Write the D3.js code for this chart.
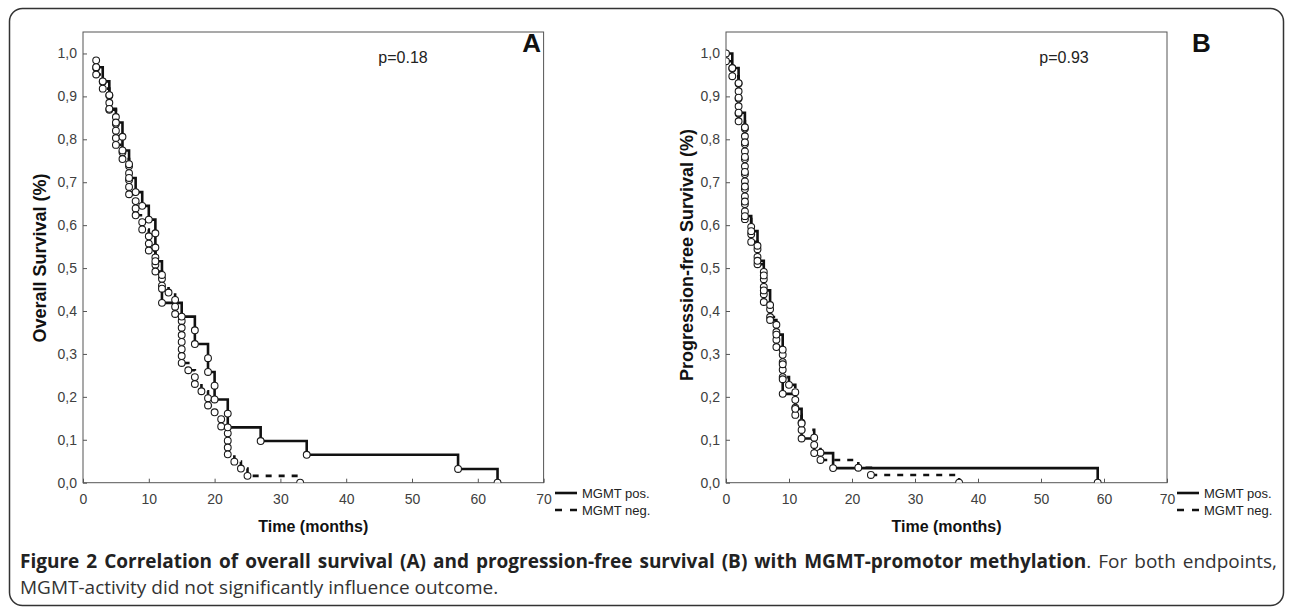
<!DOCTYPE html>
<html>
<head>
<meta charset="utf-8">
<script src="https://cdn.jsdelivr.net/npm/d3@7"></script>
<style>
  body { margin: 0; background: #fff; }
  svg { display: block; }
</style>
</head>
<body>
<svg id="fig" width="1290" height="608"></svg>
<script>
// axis ticks
const xTicks = [0, 10, 20, 30, 40, 50, 60, 70];
const yTicks = [0, 0.1, 0.2, 0.3, 0.4, 0.5, 0.6, 0.7, 0.8, 0.9, 1.0];
const yTickLabels = ["0,0", "0,1", "0,2", "0,3", "0,4", "0,5", "0,6", "0,7", "0,8", "0,9", "1,0"];
const seriesNames = ["MGMT pos.", "MGMT neg."];

// A: overall survival, MGMT pos (one point per death)
const osPosTime = [2, 3, 4, 4, 5, 6, 6, 7, 7, 8, 9, 10, 11, 11, 11, 12, 12, 12, 15, 17, 17, 19, 19, 20, 20, 22, 22, 27, 34, 57, 63];
const osPosSurv = [.968, .935, .903, .871, .839, .806, .774, .742, .710, .677, .645, .613, .581, .548, .516, .484, .452, .419,
  .387, .355, .323, .290, .258, .226, .194, .161, .129, .097, .065, .032, 0];

// A: overall survival, MGMT neg
const osNegTime = [2, 2, 2, 3, 3, 4, 4, 4, 5, 5, 5, 5, 5, 6, 6, 7, 7, 7, 7, 7, 8, 8, 8, 9, 9, 10, 10, 10, 11, 11, 11,
  12, 12, 13, 14, 14, 14, 15, 15, 15, 15, 15, 15, 15, 16, 17, 17, 18, 19, 19, 20, 21, 21, 22, 22, 22, 22, 23, 24, 25, 33];
const osNegSurv = [.984, .967, .951, .934, .918, .902, .885, .869, .852, .836, .820, .803, .787, .770, .754, .738, .721, .705,
  .689, .672, .656, .639, .623, .607, .590, .574, .557, .541, .525, .508, .492, .475, .459, .443, .426, .410, .393, .377,
  .361, .344, .328, .311, .295, .279, .262, .246, .230, .213, .197, .180, .164, .148, .131, .115, .098, .082, .066, .049,
  .033, .016, 0];

// B: progression-free survival, MGMT pos
const pfsPosTime = [0, 1, 2, 2, 2, 3, 3, 3, 3, 3, 3, 3, 4, 5, 5, 6, 6, 7, 7, 8, 9, 9, 9, 9, 11, 12, 12, 14, 17, 59];
const pfsPosSurv = [1.0, .966, .931, .897, .862, .828, .793, .759, .724, .690, .655, .621, .586, .552, .517, .483, .448,
  .414, .379, .345, .310, .276, .241, .207, .172, .138, .103, .069, .034, 0];

// B: progression-free survival, MGMT neg
const pfsNegTime = [0, 1, 1, 2, 2, 2, 2, 2, 2, 3, 3, 3, 3, 3, 3, 3, 3, 3, 3, 3, 3, 3, 4, 4, 4, 5, 5, 5, 6, 6, 6, 6, 6,
  7, 7, 8, 8, 8, 8, 9, 9, 9, 9, 10, 11, 11, 11, 11, 12, 12, 14, 14, 15, 15, 21, 23, 37];
const pfsNegSurv = [.982, .965, .947, .930, .912, .895, .877, .860, .842, .825, .807, .789, .772, .754, .737, .719, .702,
  .684, .667, .649, .632, .614, .596, .579, .561, .544, .526, .509, .491, .474, .456, .439, .421, .404, .386, .368, .351,
  .333, .316, .298, .281, .263, .246, .228, .211, .193, .175, .158, .140, .123, .105, .088, .070, .053, .035, .018, 0];

const captionBold = "Figure 2 Correlation of overall survival (A) and progression-free survival (B) with MGMT-promotor methylation";
const captionRest = ". For both endpoints,";
const captionLine2 = "MGMT-activity did not significantly influence outcome.";

const svg = d3.select("#fig");
const plotTop = 32, plotBottom = 482.7;
const font = "'Liberation Sans', Arial, sans-serif";

// rounded figure box
svg.append("rect")
  .attr("x", 9.5).attr("y", 8.5)
  .attr("width", 1274).attr("height", 597)
  .attr("rx", 13)
  .attr("fill", "none")
  .attr("stroke", "#333")
  .attr("stroke-width", 1.5);

function zip(t, s) { return t.map((d, i) => ({t: d, s: s[i]})); }

const panels = [
  {id: "a", left: 83, right: 543.6, letter: "A", letterX: 541, letterAnchor: "end",
   p: "p=0.18", pX: 403, yTitle: "Overall Survival (%)", yTitleX: 40, yTitleY: 258, legendX: 555,
   pos: zip(osPosTime, osPosSurv), neg: zip(osNegTime, osNegSurv)},
  {id: "b", left: 726, right: 1167, letter: "B", letterX: 1192, letterAnchor: "start",
   p: "p=0.93", pX: 1064, yTitle: "Progression-free Survival (%)", yTitleX: 687, yTitleY: 255, legendX: 1177,
   pos: zip(pfsPosTime, pfsPosSurv), neg: zip(pfsNegTime, pfsNegSurv)}
];

panels.forEach(P => {
  const x = d3.scaleLinear().domain([0, 70]).range([P.left, P.right]);
  const y = d3.scaleLinear().domain([0, 1.05]).range([plotBottom, plotTop]);
  const g = svg.append("g");

  g.append("clipPath").attr("id", "clip-" + P.id)
    .append("rect")
    .attr("x", P.left).attr("y", plotTop)
    .attr("width", P.right - P.left).attr("height", plotBottom - plotTop);

  // x axis (ticks point inward)
  const xa = g.append("g")
    .attr("transform", "translate(0," + plotBottom + ")")
    .call(d3.axisBottom(x).tickValues(xTicks).tickSize(-4).tickPadding(11));
  // y axis
  const ya = g.append("g")
    .attr("transform", "translate(" + P.left + ",0)")
    .call(d3.axisLeft(y).tickValues(yTicks).tickSize(-4).tickPadding(6)
      .tickFormat((d, i) => yTickLabels[i]));
  [xa, ya].forEach(a => {
    a.select(".domain").remove();
    a.selectAll(".tick line").attr("stroke", "#555");
    a.selectAll(".tick text")
      .attr("fill", "#404040")
      .style("font-family", font)
      .style("font-size", "14px");
  });

  // plot frame
  g.append("rect")
    .attr("x", P.left).attr("y", plotTop)
    .attr("width", P.right - P.left).attr("height", plotBottom - plotTop)
    .attr("fill", "none").attr("stroke", "#555").attr("stroke-width", 1);

  const line = d3.line().x(d => x(d.t)).y(d => y(d.s)).curve(d3.curveStepAfter);
  const plot = g.append("g").attr("clip-path", "url(#clip-" + P.id + ")");

  plot.append("path").datum(P.neg)
    .attr("d", line).attr("fill", "none")
    .attr("stroke", "#111").attr("stroke-width", 2.6)
    .attr("stroke-dasharray", "6,7");
  plot.append("path").datum(P.pos)
    .attr("d", line).attr("fill", "none")
    .attr("stroke", "#111").attr("stroke-width", 2.6);

  plot.selectAll("circle.m")
    .data(P.neg.concat(P.pos))
    .join("circle")
    .attr("class", "m")
    .attr("cx", d => x(d.t)).attr("cy", d => y(d.s))
    .attr("r", 3.4)
    .attr("fill", "#fff").attr("stroke", "#1a1a1a").attr("stroke-width", 1.1);

  // panel letter and p value
  g.append("text")
    .attr("x", P.letterX).attr("y", 52)
    .attr("text-anchor", P.letterAnchor)
    .style("font-family", font).style("font-weight", "bold").style("font-size", "26px")
    .attr("fill", "#111").text(P.letter);
  g.append("text")
    .attr("x", P.pX).attr("y", 63)
    .attr("text-anchor", "middle")
    .style("font-family", font).style("font-size", "16px")
    .attr("fill", "#222").text(P.p);

  // axis titles
  g.append("text")
    .attr("transform", "translate(" + P.yTitleX + "," + P.yTitleY + ") rotate(-90)")
    .attr("text-anchor", "middle").attr("dominant-baseline", "central")
    .style("font-family", font).style("font-weight", "bold").style("font-size", "18px")
    .attr("fill", "#111").text(P.yTitle);
  g.append("text")
    .attr("x", (P.left + P.right) / 2).attr("y", 532)
    .attr("text-anchor", "middle")
    .style("font-family", font).style("font-weight", "bold").style("font-size", "16px")
    .attr("fill", "#111").text("Time (months)");

  // legend
  const lg = g.append("g").attr("transform", "translate(" + P.legendX + ",0)");
  [493, 510].forEach((ly, i) => {
    lg.append("line")
      .attr("x1", 0).attr("x2", 22).attr("y1", ly).attr("y2", ly)
      .attr("stroke", "#111").attr("stroke-width", 2.6)
      .attr("stroke-dasharray", i ? "7,8" : null);
    lg.append("text")
      .attr("x", 27).attr("y", ly)
      .attr("dominant-baseline", "central")
      .style("font-family", font).style("font-size", "13px")
      .attr("fill", "#222").text(seriesNames[i]);
  });
});

// caption, first line justified to the box width
const capFont = "'Open Sans', 'Noto Sans', sans-serif";
const capLeft = 20, capRight = 1277;
const cap1 = svg.append("text")
  .attr("x", capLeft).attr("y", 568)
  .style("font-family", capFont).style("font-size", "19px");
cap1.append("tspan").style("font-weight", "bold").attr("fill", "#222").text(captionBold);
cap1.append("tspan").attr("fill", "#333").text(captionRest);
const nat = cap1.node().getComputedTextLength();
const spaces = (captionBold + captionRest).split(" ").length - 1;
cap1.style("word-spacing", ((capRight - capLeft - nat) / spaces) + "px");

svg.append("text")
  .attr("x", capLeft).attr("y", 594)
  .style("font-family", capFont).style("font-size", "19px")
  .attr("fill", "#333").text(captionLine2);
</script>
</body>
</html>
